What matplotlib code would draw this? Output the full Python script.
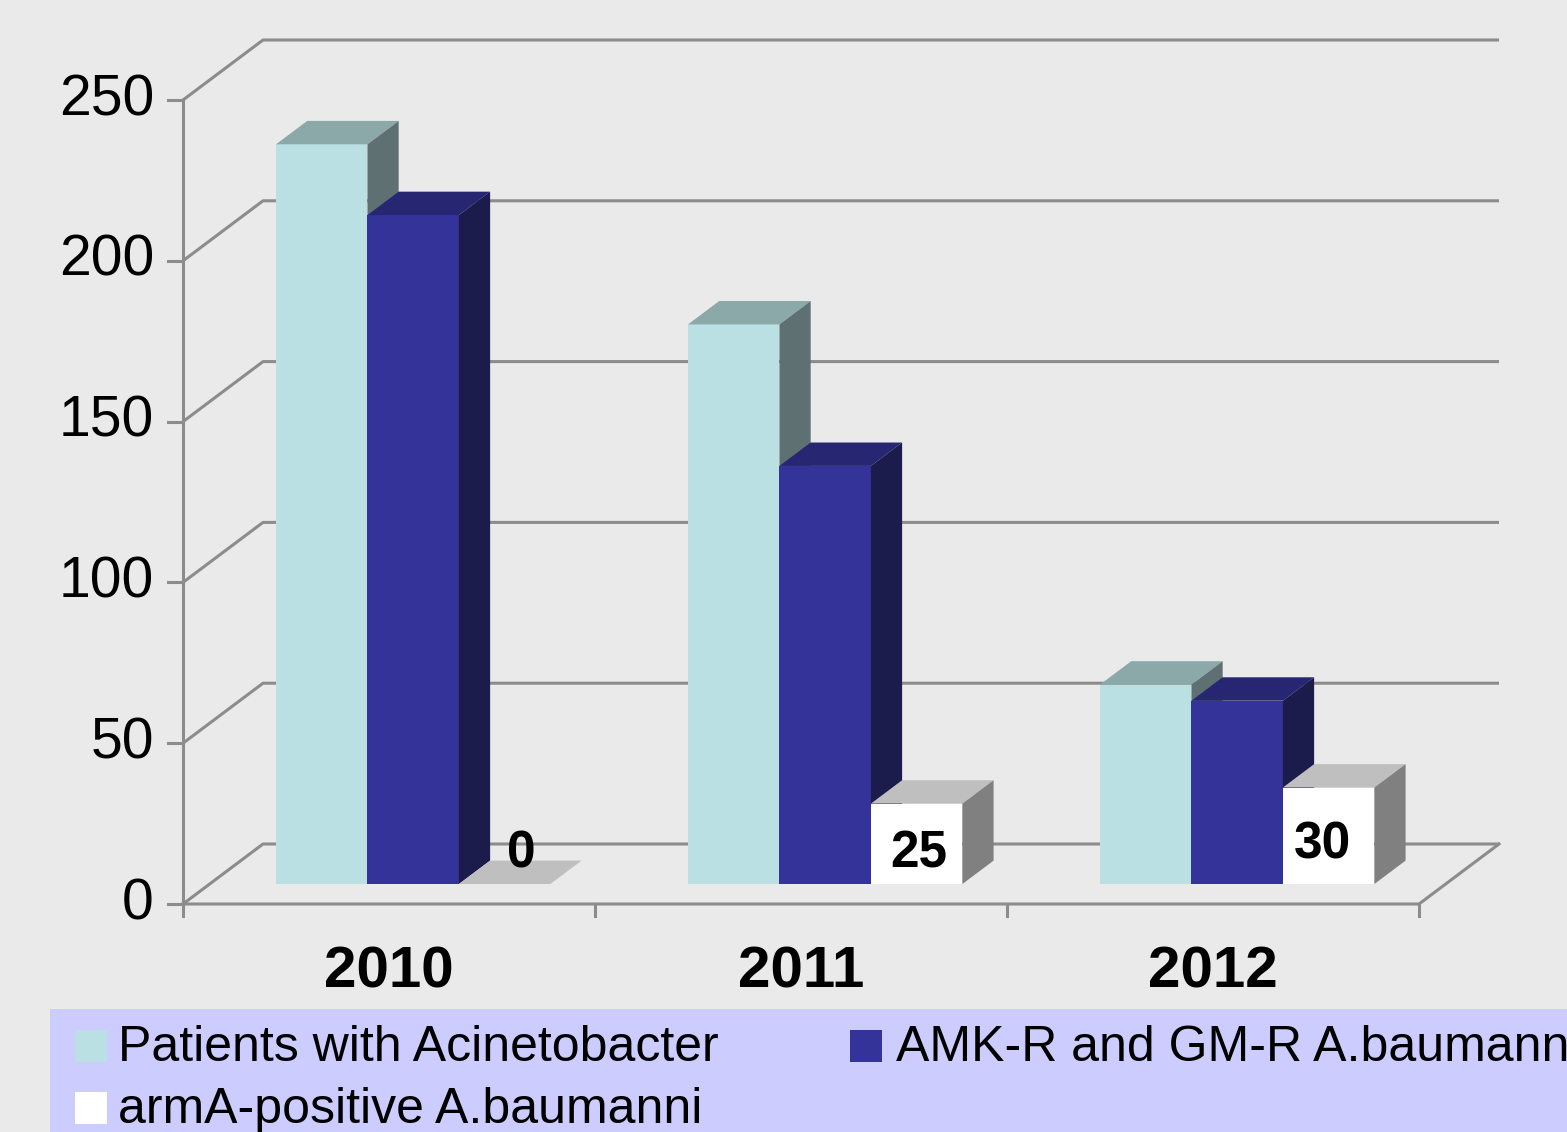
import matplotlib.pyplot as plt
from matplotlib.patches import Polygon, Rectangle

# data
years = ['2010', '2011', '2012']
series = ['Patients with Acinetobacter', 'AMK-R and GM-R A.baumanni', 'armA-positive A.baumanni']
patients = [230, 174, 62]
amk_gm = [208, 130, 57]
arma = [0, 25, 30]
yticks = [0, 50, 100, 150, 200, 250]

values = [patients, amk_gm, arma]
front_col = ['#BAE0E3', '#333399', '#FFFFFF']
top_col = ['#8CA9AA', '#262673', '#BFBFBF']
side_col = ['#5E7072', '#1B1B4C', '#808080']
grid_col = '#8C8C8C'
bg = '#EAEAEA'

plt.rcParams['font.family'] = ['Liberation Sans', 'DejaVu Sans']

W, H = 1567, 1132
PX = 412.0      # pixels per category
PY = 3.216      # pixels per value unit
X0, Y0 = 183, 904   # front origin in pixels

fig = plt.figure(figsize=(W / 100, H / 100), dpi=100, facecolor=bg)
ax = fig.add_axes([0, 0, 1, 1])
ax.set_axis_off()
ax.set_xlim(-X0 / PX, (W - X0) / PX)
ax.set_ylim((Y0 - H) / PY, Y0 / PY)

DX, DY = 80 / PX, 60 / PY      # full depth of the floor
f0, f1 = 1 / 3, 0.39           # bar front depth, bar thickness
bx, by = DX * f0, DY * f0
tx, ty = DX * f1, DY * f1
ncat = len(years)
ymax = yticks[-1]
lw = 2.2

# walls and gridlines
for v in yticks:
    ax.plot([0, DX, ncat + DX], [v, v + DY, v + DY], color=grid_col, lw=lw, zorder=1,
            solid_capstyle='butt')
    ax.plot([-15 / PX, 0], [v, v], color=grid_col, lw=lw, zorder=1)
    ax.text(-29 / PX, v, str(v), ha='right', va='center', fontsize=41, zorder=5)
ax.plot([0, 0], [0, ymax], color=grid_col, lw=lw, zorder=1)
ax.plot([0, ncat, ncat + DX], [0, 0, DY], color=grid_col, lw=lw, zorder=1)
for i in range(ncat + 1):
    ax.plot([i, i], [0, -12 / PY], color=grid_col, lw=lw, zorder=1)
for i, yr in enumerate(years):
    ax.text(i + 0.5, -21.4, yr, ha='center', va='center', fontsize=42,
            fontweight='bold', zorder=5)

# bars
w = 0.222
z = 3
for i in range(ncat):
    for j, vals in enumerate(values):
        v = vals[i]
        left = i + 0.5 + (j - 1.5) * w + bx - 0.006
        right = left + w
        ax.bar(left, v, width=w, bottom=by, align='edge', color=front_col[j],
               lw=0, zorder=z)
        top = by + v
        ax.add_patch(Polygon([(left, top), (right, top), (right + tx, top + ty),
                              (left + tx, top + ty)], closed=True,
                             facecolor=top_col[j], lw=0, zorder=z))
        if v > 0:
            ax.add_patch(Polygon([(right, by), (right + tx, by + ty),
                                  (right + tx, top + ty), (right, top)], closed=True,
                                 facecolor=side_col[j], lw=0, zorder=z))
        z += 1

# data labels on the armA bars
lab_dx = [0.035, 0.0, -0.02]
lab_y = [15.4, 15.4, 18.5]
for i, v in enumerate(arma):
    cx = i + 0.5 + w + bx + lab_dx[i]
    ax.text(cx, lab_y[i], str(v), ha='center', va='center', fontsize=37,
            fontweight='bold', zorder=20)

# legend band
fig.add_artist(Rectangle((50 / W, 0), 1, (H - 1009) / H, transform=fig.transFigure,
                         facecolor='#CCCCFF', lw=0, zorder=0))
leg_pos = [(75, 1030, 1061, 118), (850, 1030, 1061, 896), (75, 1092, 1123, 118)]
for j, name in enumerate(series):
    mx, my, base, tx0 = leg_pos[j]
    fig.add_artist(Rectangle((mx / W, 1 - (my + 32) / H), 32 / W, 32 / H,
                             transform=fig.transFigure, facecolor=front_col[j],
                             lw=0, zorder=1))
    fig.text(tx0 / W, 1 - base / H, name, ha='left', va='baseline',
             fontsize=36, zorder=2)

fig.savefig('out.png', dpi=100, facecolor=bg)
